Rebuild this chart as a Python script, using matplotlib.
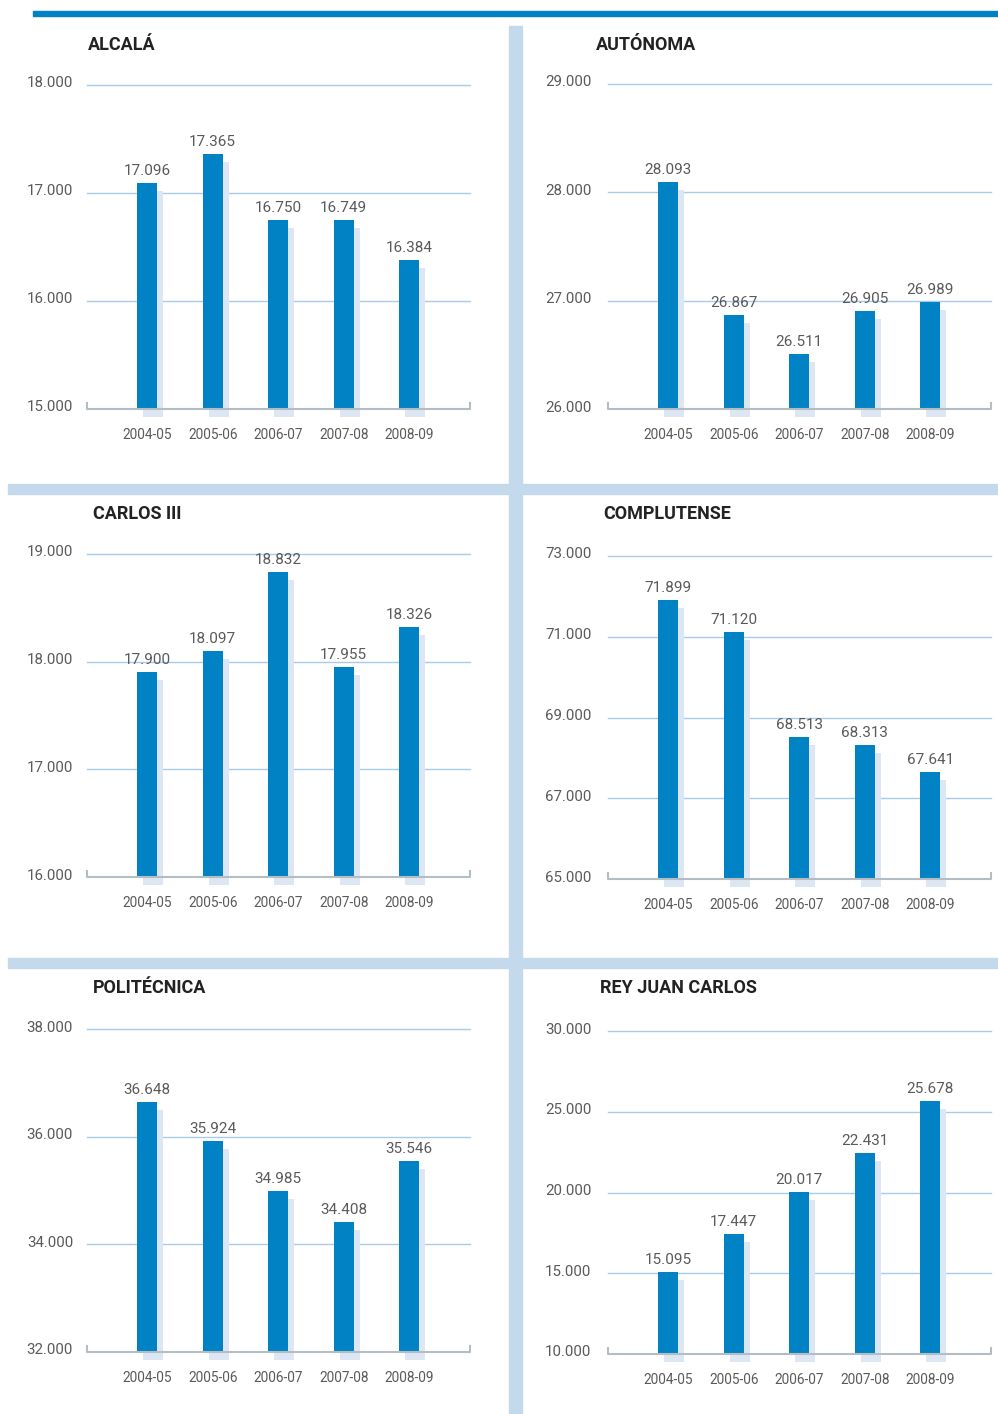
import matplotlib
matplotlib.use("Agg")
import matplotlib.pyplot as plt
import matplotlib.transforms as mtransforms
from matplotlib.patches import Rectangle

plt.rcParams['font.family'] = ['Roboto', 'DejaVu Sans']

cursos = ['2004-05', '2005-06', '2006-07', '2007-08', '2008-09']
alcala = [17096, 17365, 16750, 16749, 16384]
autonoma = [28093, 26867, 26511, 26905, 26989]
carlos3 = [17900, 18097, 18832, 17955, 18326]
complutense = [71899, 71120, 68513, 68313, 67641]
politecnica = [36648, 35924, 34985, 34408, 35546]
reyjuan = [15095, 17447, 20017, 22431, 25678]

titulos = ['ALCALÁ', 'AUTÓNOMA', 'CARLOS III', 'COMPLUTENSE', 'POLITÉCNICA', 'REY JUAN CARLOS']
series = [alcala, autonoma, carlos3, complutense, politecnica, reyjuan]
ticks = [[15000, 16000, 17000, 18000],
         [26000, 27000, 28000, 29000],
         [16000, 17000, 18000, 19000],
         [65000, 67000, 69000, 71000, 73000],
         [32000, 34000, 36000, 38000],
         [10000, 15000, 20000, 25000, 30000]]

W, H = 998, 1414
AZUL = '#0082c4'
SOMBRA = '#dce7f3'
REJILLA = '#a8cbea'
SEPARADOR = '#c5d9ec'
GRIS = '#5a5a5a'

fig = plt.figure(figsize=(W / 100, H / 100), dpi=100)


def miles(v):
    return f"{v:,.0f}".replace(",", ".")


def rect_px(x0, y0, x1, y1, color):
    fig.patches.append(Rectangle((x0 / W, 1 - y1 / H), (x1 - x0) / W, (y1 - y0) / H,
                                 transform=fig.transFigure, color=color, zorder=0))


# decoracion: linea superior y separadores
rect_px(33, 11, 998, 16, AZUL)
rect_px(509, 26, 522, 1414, SEPARADOR)
rect_px(8, 484, 998, 494, SEPARADOR)
rect_px(8, 958, 998, 968, SEPARADOR)

# (x izquierda, y arriba, y abajo) en pixeles
paneles = [(87, 85, 409), (608, 84, 409),
           (87, 554, 877), (608, 556, 879),
           (87, 1029, 1352), (608, 1031, 1354)]
pos_titulos = [(88, 45), (596, 45), (93, 514), (603, 514), (93, 988), (600, 988)]

sombra_off = mtransforms.ScaledTranslation(6 / 100, -8 / 100, fig.dpi_scale_trans)
sube = mtransforms.ScaledTranslation(0, 3 / 100, fig.dpi_scale_trans)

for i in range(6):
    x0, ytop, ybot = paneles[i]
    ax = fig.add_axes([x0 / W, 1 - ybot / H, 383 / W, (ybot - ytop) / H])
    ymin, ymax = ticks[i][0], ticks[i][-1]
    ax.set_ylim(ymin, ymax)
    ax.set_xlim(-0.92, 4.93)
    xs = range(len(cursos))
    alturas = [v - ymin for v in series[i]]

    for t in ticks[i][1:]:
        ax.axhline(t, color=REJILLA, lw=1, zorder=1, clip_on=False)

    ax.bar(xs, alturas, bottom=ymin, width=0.305, color=SOMBRA, zorder=2,
           transform=ax.transData + sombra_off, clip_on=False)
    ax.bar(xs, alturas, bottom=ymin, width=0.305, color=AZUL, zorder=3)

    for x, v in zip(xs, series[i]):
        ax.annotate(miles(v), (x, v), xytext=(0, 5), textcoords='offset pixels',
                    ha='center', va='bottom', fontsize=11, color=GRIS, zorder=4)

    # linea base con remates
    tk = 6 / (ybot - ytop)
    ax.plot([0, 0, 1, 1], [tk, 0, 0, tk], transform=ax.transAxes, color='#b4bcc4',
            lw=1.5, clip_on=False, zorder=5)

    ax.set_xticks(list(xs))
    ax.set_xticklabels(cursos)
    ax.set_yticks(ticks[i])
    ax.set_yticklabels([miles(t) for t in ticks[i]])
    ax.tick_params(axis='x', length=0, pad=13.5, labelsize=9.8, labelcolor=GRIS)
    ax.tick_params(axis='y', length=0, pad=10 if i % 2 == 0 else 12,
                   labelsize=10.8, labelcolor=GRIS)
    for lab in ax.get_yticklabels():
        lab.set_transform(lab.get_transform() + sube)
    for s in ax.spines.values():
        s.set_visible(False)
    ax.patch.set_alpha(0)

    tx, ty = pos_titulos[i]
    fig.text(tx / W, 1 - ty / H, titulos[i], fontsize=13, fontweight='bold',
             color='#222222', ha='left', va='center')

fig.savefig('out.png', dpi=100)
